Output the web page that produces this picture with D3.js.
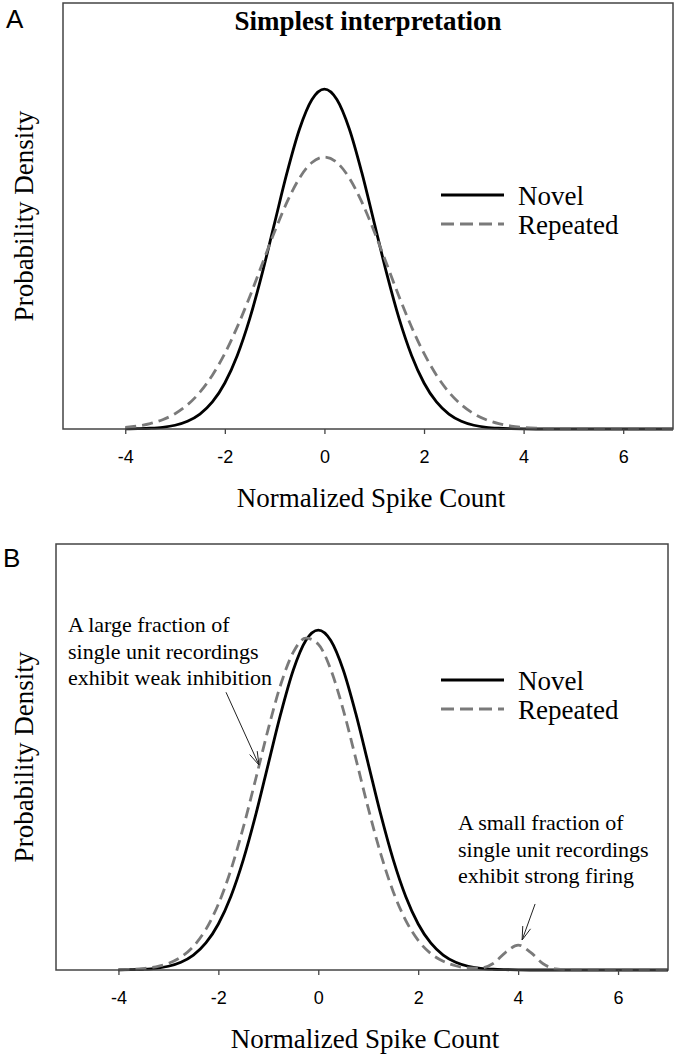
<!DOCTYPE html>
<html><head><meta charset="utf-8">
<script src="https://cdn.jsdelivr.net/npm/d3@7"></script>
<style>html,body{margin:0;padding:0;background:#fff;}</style>
</head><body><div id="chart"></div>
<script>
// ---- data ----
const xValues = [-4,-3.75,-3.5,-3.25,-3,-2.75,-2.5,-2.25,-2,-1.75,-1.5,-1.25,-1,-0.75,-0.5,-0.25,0,0.25,0.5,0.75,1,1.25,1.5,1.75,2,2.25,2.5,2.75,3,3.25,3.5,3.75,4,4.25,4.5,4.75,5,5.5,6,6.5,7];
const novelA = [0.0001,0.0004,0.0009,0.002,0.0044,0.0091,0.0175,0.0317,0.054,0.0863,0.1295,0.1826,0.242,0.3011,0.3521,0.3867,0.3989,0.3867,0.3521,0.3011,0.242,0.1826,0.1295,0.0863,0.054,0.0317,0.0175,0.0091,0.0044,0.002,0.0009,0.0004,0.0001,0,0,0,0,0,0,0,0];
const repeatedA = [0.0019,0.0035,0.0063,0.0109,0.0179,0.0284,0.0432,0.0632,0.0887,0.1198,0.1553,0.1936,0.2317,0.2665,0.2946,0.3128,0.3191,0.3128,0.2946,0.2665,0.2317,0.1936,0.1553,0.1198,0.0887,0.0632,0.0432,0.0284,0.0179,0.0109,0.0063,0.0035,0.0019,0.001,0.0005,0.0002,0.0001,0,0,0,0];
const novelB = [0.0001,0.0004,0.0009,0.002,0.0044,0.0091,0.0175,0.0317,0.054,0.0863,0.1295,0.1826,0.242,0.3011,0.3521,0.3867,0.3989,0.3867,0.3521,0.3011,0.242,0.1826,0.1295,0.0863,0.054,0.0317,0.0175,0.0091,0.0044,0.002,0.0009,0.0004,0.0001,0,0,0,0,0,0,0,0];
const repeatedB = [0.0003,0.0007,0.0017,0.0037,0.0077,0.0151,0.0277,0.0477,0.0773,0.1174,0.1676,0.2248,0.2833,0.3354,0.373,0.3896,0.3824,0.3526,0.3054,0.2484,0.1899,0.1363,0.0919,0.0583,0.0347,0.0194,0.0102,0.005,0.0024,0.0023,0.0077,0.0207,0.0293,0.0207,0.0073,0.0013,0.0001,0,0,0,0];
const xTicks = [-4,-2,0,2,4,6];
const xTickLabels = ["-4","-2","0","2","4","6"];
const xDomain = [-5.25, 7];
const yDomain = [0, 0.5];
const seriesNames = ["Novel", "Repeated"];
const annotLeft = ["A large fraction of", "single unit recordings", "exhibit weak inhibition"];
const annotRight = ["A small fraction of", "single unit recordings", "exhibit strong firing"];

// ---- drawing ----
const W = 677, H = 1056;
const serif = "'Liberation Serif','Times New Roman',serif";
const sans = "'Liberation Sans',Arial,sans-serif";
const svg = d3.select("#chart").append("svg").attr("width", W).attr("height", H)
  .style("background", "#fff");

function panel(opt) {
  const g = svg.append("g");
  const x = d3.scaleLinear().domain(xDomain).range([opt.left, opt.right]);
  const y = d3.scaleLinear().domain(yDomain).range([opt.bottom, opt.top]);

  const line = (vals) => d3.line().x((d, i) => x(xValues[i])).y(d => y(d)).curve(d3.curveMonotoneX)(vals);

  g.append("path").attr("d", line(opt.novel)).attr("fill", "none")
    .attr("stroke", "#000").attr("stroke-width", 2.8);
  g.append("path").attr("d", line(opt.repeated)).attr("fill", "none")
    .attr("stroke", "#7a7a7a").attr("stroke-width", 2.8).attr("stroke-dasharray", "11,6");

  // frame
  g.append("rect").attr("x", opt.left).attr("y", opt.top)
    .attr("width", opt.right - opt.left).attr("height", opt.bottom - opt.top)
    .attr("fill", "none").attr("stroke", "#444").attr("stroke-width", 1.5);

  // x axis ticks
  const ax = g.append("g").attr("transform", `translate(0,${opt.bottom})`)
    .call(d3.axisBottom(x).tickValues(xTicks).tickSize(5).tickPadding(16)
      .tickFormat((d, i) => xTickLabels[i]));
  ax.select(".domain").remove();
  ax.selectAll(".tick line").attr("stroke", "#444").attr("stroke-width", 1.3);
  ax.selectAll(".tick text").attr("font-family", sans).attr("font-size", 18).attr("fill", "#000")
    .attr("dy", "0.71em");

  // axis titles
  g.append("text").attr("x", (opt.left + opt.right) / 2 + 3).attr("y", opt.bottom + 78)
    .attr("text-anchor", "middle").attr("font-family", serif).attr("font-size", 27)
    .text("Normalized Spike Count");
  g.append("text").attr("transform", `translate(33,${(opt.top + opt.bottom) / 2}) rotate(-90)`)
    .attr("text-anchor", "middle").attr("font-family", serif).attr("font-size", 27)
    .text("Probability Density");

  // panel letter
  g.append("text").attr("x", opt.letterX).attr("y", opt.letterY)
    .attr("font-family", sans).attr("font-size", 26).text(opt.letter);

  // legend
  const lg = g.append("g");
  seriesNames.forEach((name, i) => {
    const ly = opt.legendY + i * 29;
    lg.append("line").attr("x1", 441).attr("x2", 504).attr("y1", ly).attr("y2", ly)
      .attr("stroke", i === 0 ? "#000" : "#7a7a7a").attr("stroke-width", 2.8)
      .attr("stroke-dasharray", i === 0 ? null : "13,6");
    lg.append("text").attr("x", 518).attr("y", ly + 10).attr("font-family", serif)
      .attr("font-size", 27).text(name);
  });
  return {g, x, y};
}

const A = panel({left: 63, right: 673, top: 3, bottom: 429, novel: novelA, repeated: repeatedA,
  letter: "A", letterX: 6, letterY: 28, legendY: 195});
A.g.append("text").attr("x", 368).attr("y", 30).attr("text-anchor", "middle")
  .attr("font-family", serif).attr("font-weight", "bold").attr("font-size", 27)
  .text("Simplest interpretation");

const B = panel({left: 56, right: 668, top: 544, bottom: 970, novel: novelB, repeated: repeatedB,
  letter: "B", letterX: 3, letterY: 567, legendY: 680});

function annot(lines, tx, ty) {
  const t = B.g.append("text").attr("font-family", serif).attr("font-size", 22);
  lines.forEach((s, i) => t.append("tspan").attr("x", tx).attr("y", ty + i * 26.5).text(s));
}
annot(annotLeft, 68, 632);
annot(annotRight, 458, 830);

function arrow(x0, y0, x1, y1) {
  const px0 = B.x(x0), py0 = B.y(y0), px1 = B.x(x1), py1 = B.y(y1);
  const ang = Math.atan2(py1 - py0, px1 - px0);
  const L = 14, spread = 0.3;
  const a1 = [px1 - L * Math.cos(ang - spread), py1 - L * Math.sin(ang - spread)];
  const a2 = [px1 - L * Math.cos(ang + spread), py1 - L * Math.sin(ang + spread)];
  B.g.append("path")
    .attr("d", `M${px0},${py0}L${px1},${py1}M${a1[0]},${a1[1]}L${px1},${py1}L${a2[0]},${a2[1]}`)
    .attr("fill", "none").attr("stroke", "#222").attr("stroke-width", 1);
}
arrow(-1.847, 0.326, -1.187, 0.2406);
arrow(4.34, 0.0775, 4.08, 0.0352);
</script></body></html>
